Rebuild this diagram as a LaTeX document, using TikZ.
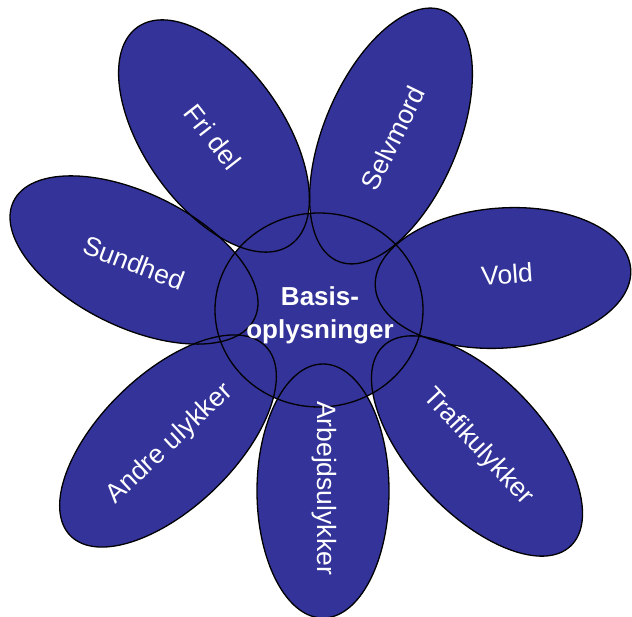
\documentclass[tikz,border=0pt]{standalone}
\usepackage{fontspec}
\setmainfont{Liberation Sans}
\usetikzlibrary{shapes}
\definecolor{petalblue}{RGB}{51,51,153}

\begin{document}
\begin{tikzpicture}[x=1pt,y=1pt]
            \tikzset{every node/.style={text=white, align=center, inner sep=0pt,
                        font=\fontsize{26.5}{31}\selectfont},
                    outline/.style={draw=black, line width=1.3pt}}
            \useasboundingbox (0,0) rectangle (632,617);
            % petals: x / y / angle / long / short
            \def\petals{214/481/-55/133/70, 391/481/67/136/67, 134/357/-26/134/67,
                        503/339/4/128/70, 477/171/-47/137/67, 323/126/90/127/66,
                        168/176/44/136/67}
            \foreach \x/\y/\a/\l/\s in \petals
                \fill[petalblue, rotate around={\a:(\x,\y)}] (\x,\y) ellipse (\l pt and \s pt);
            \fill[petalblue] (319,307) ellipse (104pt and 97pt);
            \foreach \x/\y/\a/\l/\s in \petals
                \draw[outline, rotate around={\a:(\x,\y)}] (\x,\y) ellipse (\l pt and \s pt);
            \draw[outline] (319,307) ellipse (104pt and 97pt);
            \node[font=\fontsize{26}{33}\selectfont\bfseries] (0) at (320,302) {Basis-\\oplysninger};
            \node[rotate=-52] (1) at (213,480) {Fri del};
            \node[rotate=64] (2) at (393,479) {Selvmord};
            \node[rotate=-21] (3) at (134,354) {Sundhed};
            \node[rotate=4] (4) at (507,343) {Vold};
            \node[rotate=-47] (5) at (478,170) {Trafikulykker};
            \node[rotate=-90] (6) at (324,129) {Arbejdsulykker};
            \node[rotate=43] (7) at (170,173) {Andre ulykker};
        \end{tikzpicture}
\end{document}
